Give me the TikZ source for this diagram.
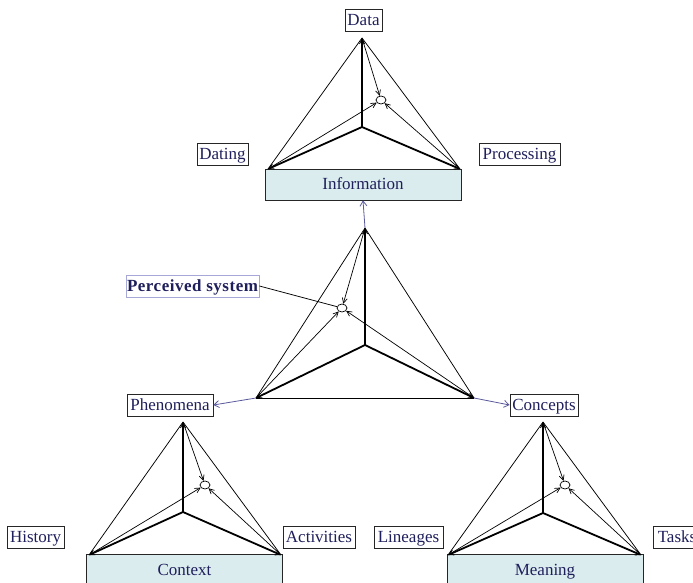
\documentclass[tikz,border=0pt]{standalone}
\usepackage{fontspec}
\setmainfont{Liberation Serif}
\usetikzlibrary{arrows.meta,shapes.geometric}

\definecolor{ink}{HTML}{1F1F5C}
\definecolor{linkblue}{HTML}{5A5A9C}
\definecolor{panel}{HTML}{DAECEE}
\definecolor{softframe}{HTML}{A8A8D8}

\tikzset{
  x=1pt, y=-1pt,
  thinedge/.style={line width=0.75pt, line join=round},
  thickedge/.style={line width=1.8pt, -{Straight Barb[length=5pt,width=5pt,line width=0.8pt]}},
  ray/.style={line width=0.7pt, -{Straight Barb[length=5pt,width=5pt]}},
  link/.style={draw=linkblue, line width=0.8pt, -{Straight Barb[length=5pt,width=7pt]}},
  hub/.style={ellipse, draw, fill=white, line width=0.7pt, minimum width=10pt, minimum height=8pt, inner sep=0pt},
  tag/.style={draw=black!85, line width=0.8pt, fill=white, text=ink, inner sep=1pt,
    text height=13.5pt, text depth=3pt,
    minimum height=22pt, font=\fontsize{17}{19}\selectfont},
  panelbox/.style={tag, fill=panel, minimum height=31pt, minimum width=196pt},
}

% one tetrahedron: #1 prefix, #2 apex, #3 centre, #4 left base, #5 right base, #6 hub
\newcommand\tetrahedron[6]{%
  \coordinate (#1-a) at (#2);
  \coordinate (#1-c) at (#3);
  \coordinate (#1-l) at (#4);
  \coordinate (#1-r) at (#5);
  \node[hub] (#1-h) at (#6) {};
  \draw[thinedge] (#1-l) -- (#1-a) -- (#1-r);
  \draw[thickedge] (#1-c) -- (#1-a);
  \draw[thickedge] (#1-c) -- (#1-l);
  \draw[thickedge] (#1-c) -- (#1-r);
  \draw[ray] (#1-a) -- (#1-h);
  \draw[ray] (#1-l) -- (#1-h);
  \draw[ray] (#1-r) -- (#1-h);
}

\begin{document}
\begin{tikzpicture}
  \useasboundingbox (0,0) rectangle (693,583);
  \clip (0,0) rectangle (693,583);

  % base panels
  \node[panelbox] (info) at (363,184.5) {Information};
  \node[panelbox, anchor=north] (context) at (184.5,554) {Context};
  \node[panelbox, anchor=north] (meaning) at (545,554) {Meaning};

  % tetrahedra
  \tetrahedron{t}{362,38}{362,127}{268,169}{460,169}{381,100}
  \tetrahedron{m}{365,228}{365,345}{256,398}{474,398}{342,308}
  \draw[thinedge] (m-l) -- (m-r);
  \tetrahedron{bl}{183,422}{183,512}{89,555}{281,555}{205,485}
  \tetrahedron{br}{543,422}{543,513}{448,555}{641,555}{565,485}

  % labels
  \node[tag, minimum width=37pt] (data) at (363.5,20.5) {Data};
  \node[tag, minimum width=51pt] (dating) at (222.5,154.5) {Dating};
  \node[tag, minimum width=81pt] (processing) at (519.5,154.5) {Processing};
  \node[tag, draw=softframe, minimum width=133pt, inner sep=0.5pt,
        font=\fontsize{17}{19}\selectfont\bfseries\addfontfeatures{LetterSpace=3}] (perceived) at (192.5,286) {Perceived system};
  \node[tag, minimum width=86pt] (phenomena) at (170,405) {Phenomena};
  \node[tag, minimum width=68pt] (concepts) at (544,405) {Concepts};
  \node[tag, minimum width=57pt] (history) at (35.5,537.5) {History};
  \node[tag, minimum width=72pt] (activities) at (319,537.5) {Activities};
  \node[tag, minimum width=69pt] (lineages) at (408.5,537.5) {Lineages};
  \node[tag, minimum width=48pt] (tasks) at (677,537.5) {Tasks};

  % connections between levels
  \draw[link] (m-a) -- (info.south);
  \draw[link] (m-l) -- (phenomena.east);
  \draw[link] (m-r) -- (concepts.west);
  \draw[thinedge] (perceived.east) -- (m-h);
\end{tikzpicture}
\end{document}
